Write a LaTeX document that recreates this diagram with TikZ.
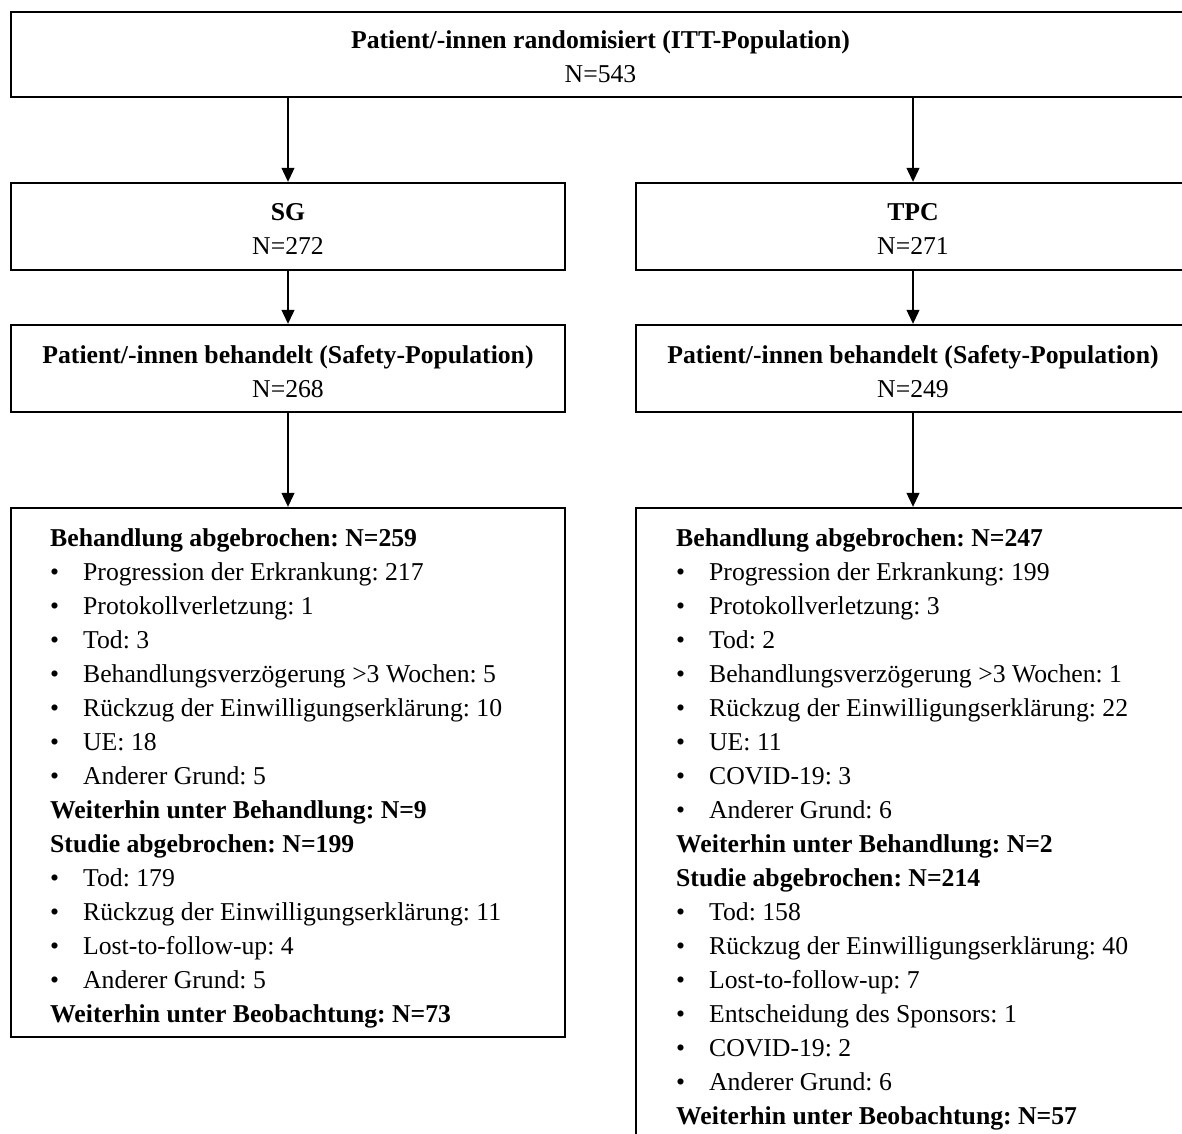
\documentclass[tikz,border=0pt]{standalone}
\usepackage{fontspec}
\setmainfont{Liberation Serif}
\usetikzlibrary{arrows.meta}
\frenchspacing
\tikzset{
  box/.style={draw, line width=2.4pt, rectangle, inner sep=0pt},
  arr/.style={line width=1.1pt, -{Triangle[width=13pt,length=14pt]}},
  txt/.style={inner sep=0pt, anchor=base, font=\fontsize{25.7}{34}\selectfont\frenchspacing},
  bt/.style={txt, font=\fontsize{25.7}{34}\selectfont\frenchspacing\bfseries},
  hd/.style={txt, anchor=base west, font=\fontsize{25.7}{34}\selectfont\frenchspacing\bfseries, xshift=-33pt},
  bl/.style={txt, anchor=base west, execute at begin node={\llap{\makebox[33pt][l]{\textbullet}}}},
}
\begin{document}
\begin{tikzpicture}[x=1pt,y=-1pt]
\useasboundingbox (0,0) rectangle (1182,1133);
\fill[white] (0,0) rectangle (1182,1133);
\clip (0,0) rectangle (1182,1133);

% boxes
\node[box, minimum width=1179pt, minimum height=85pt] (top) at (600.5,54.5) {};
\node[box, minimum width=554pt, minimum height=87pt] (sg) at (288,226.5) {};
\node[box, minimum width=554pt, minimum height=87pt] (tpc) at (913,226.5) {};
\node[box, minimum width=554pt, minimum height=87pt] (safL) at (288,368.5) {};
\node[box, minimum width=554pt, minimum height=87pt] (safR) at (913,368.5) {};
\node[box, minimum width=554pt, minimum height=529pt] (endL) at (288,772.5) {};
\node[box, minimum width=554pt, minimum height=660pt] (endR) at (913,838) {};

% arrows
\draw[arr] (sg.north |- top.south) -- (sg.north);
\draw[arr] (tpc.north |- top.south) -- (tpc.north);
\draw[arr] (sg.south) -- (safL.north);
\draw[arr] (tpc.south) -- (safR.north);
\draw[arr] (safL.south) -- (endL.north);
\draw[arr] (safR.south) -- (endR.north);

% texts of small boxes
\node[bt] (t1) at (600.5,48) {Patient/-innen randomisiert (ITT-Population)};
\node[txt] (t2) at (600.5,82) {N=543};
\node[bt] (s1) at (288,220) {SG};
\node[txt] (s2) at (288,254) {N=272};
\node[bt] (p1) at (913,220) {TPC};
\node[txt] (p2) at (913,254) {N=271};
\node[bt] (a1) at (288,363) {Patient/-innen behandelt (Safety-Population)};
\node[txt] (a2) at (288,397) {N=268};
\node[bt] (b1) at (913,363) {Patient/-innen behandelt (Safety-Population)};
\node[txt] (b2) at (913,397) {N=249};

% left list
\foreach [count=\i from 0] \s/\t in {
  hd/Behandlung abgebrochen: N=259,
  bl/Progression der Erkrankung: 217,
  bl/Protokollverletzung: 1,
  bl/Tod: 3,
  bl/Behandlungsverzögerung >3 Wochen: 5,
  bl/Rückzug der Einwilligungserklärung: 10,
  bl/UE: 18,
  bl/Anderer Grund: 5,
  hd/Weiterhin unter Behandlung: N=9,
  hd/Studie abgebrochen: N=199,
  bl/Tod: 179,
  bl/Rückzug der Einwilligungserklärung: 11,
  bl/Lost-to-follow-up: 4,
  bl/Anderer Grund: 5,
  hd/Weiterhin unter Beobachtung: N=73}
  \node[\s] (L\i) at (83,{546+34*\i}) {\t};

% right list
\foreach [count=\i from 0] \s/\t in {
  hd/Behandlung abgebrochen: N=247,
  bl/Progression der Erkrankung: 199,
  bl/Protokollverletzung: 3,
  bl/Tod: 2,
  bl/Behandlungsverzögerung >3 Wochen: 1,
  bl/Rückzug der Einwilligungserklärung: 22,
  bl/UE: 11,
  bl/COVID-19: 3,
  bl/Anderer Grund: 6,
  hd/Weiterhin unter Behandlung: N=2,
  hd/Studie abgebrochen: N=214,
  bl/Tod: 158,
  bl/Rückzug der Einwilligungserklärung: 40,
  bl/Lost-to-follow-up: 7,
  bl/Entscheidung des Sponsors: 1,
  bl/COVID-19: 2,
  bl/Anderer Grund: 6,
  hd/Weiterhin unter Beobachtung: N=57}
  \node[\s] (R\i) at (709,{546+34*\i}) {\t};
\end{tikzpicture}
\end{document}
